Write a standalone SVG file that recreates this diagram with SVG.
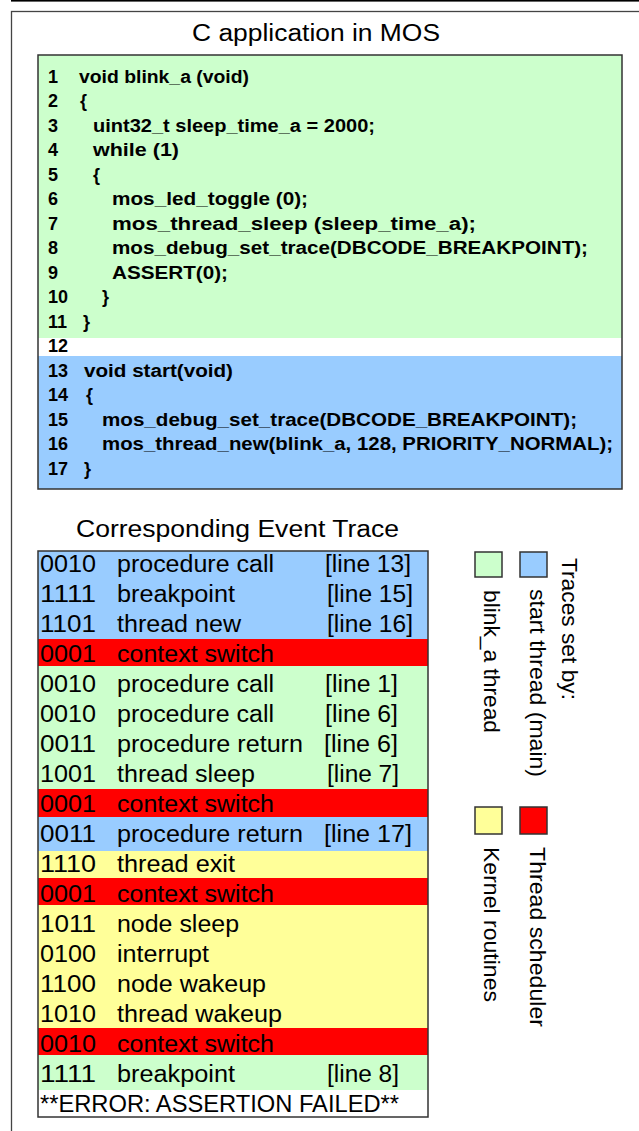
<svg xmlns="http://www.w3.org/2000/svg" width="639" height="1131" viewBox="0 0 639 1131">
<style>
.code{font-family:"Liberation Sans",Arial,sans-serif;font-size:18px;font-weight:bold;fill:#000}
.tr{font-family:"Liberation Sans",Arial,sans-serif;font-size:23px;fill:#000}
.ttl{font-family:"Liberation Sans",Arial,sans-serif;font-size:23.5px;fill:#000}
.lg{font-family:"Liberation Sans",Arial,sans-serif;font-size:22px;fill:#000}
.box{stroke:#333;stroke-width:1.5;fill:none}
.sq{stroke:#333;stroke-width:1.5}
.g{fill:#ccffcc}.b{fill:#99ccff}.r{fill:#ff0000}.y{fill:#ffff99}.w{fill:#ffffff}
</style>
<rect x="0" y="0" width="639" height="1131" fill="#ffffff"/>
<rect x="11" y="0" width="628" height="1.6" fill="#000"/>
<rect id="frame" x="11.5" y="11.5" width="700" height="1200" fill="none" stroke="#444" stroke-width="1.3"/>

<g id="title-app">
<text class="ttl" x="192" y="41" textLength="248" lengthAdjust="spacingAndGlyphs">C application in MOS</text>
</g>

<g id="code-box">
<rect class="g" x="38" y="55" width="584" height="283"/>
<rect class="w" x="38" y="338" width="584" height="18"/>
<rect class="b" x="38" y="356" width="584" height="133"/>
<rect class="box" x="38" y="55" width="584" height="434"/>
<g class="code">
<text x="48" y="82.5">1</text><text x="79" y="82.5" textLength="170" lengthAdjust="spacingAndGlyphs">void blink_a (void)</text>
<text x="48" y="107">2</text><text x="80" y="107">{</text>
<text x="48" y="131.5">3</text><text x="93" y="131.5" textLength="282" lengthAdjust="spacingAndGlyphs">uint32_t sleep_time_a = 2000;</text>
<text x="48" y="156">4</text><text x="93" y="156" textLength="86" lengthAdjust="spacingAndGlyphs">while (1)</text>
<text x="48" y="180.5">5</text><text x="93" y="180.5">{</text>
<text x="48" y="205">6</text><text x="112" y="205" textLength="196" lengthAdjust="spacingAndGlyphs">mos_led_toggle (0);</text>
<text x="48" y="229.5">7</text><text x="112" y="229.5" textLength="364" lengthAdjust="spacingAndGlyphs">mos_thread_sleep (sleep_time_a);</text>
<text x="48" y="254">8</text><text x="112" y="254" textLength="476" lengthAdjust="spacingAndGlyphs">mos_debug_set_trace(DBCODE_BREAKPOINT);</text>
<text x="48" y="278.5">9</text><text x="112" y="278.5" textLength="116" lengthAdjust="spacingAndGlyphs">ASSERT(0);</text>
<text x="48" y="303">10</text><text x="102" y="303">}</text>
<text x="48" y="327.5">11</text><text x="83" y="327.5">}</text>
<text x="48" y="352">12</text>
<text x="48" y="376.5">13</text><text x="84" y="376.5" textLength="149" lengthAdjust="spacingAndGlyphs">void start(void)</text>
<text x="48" y="401">14</text><text x="86" y="401">{</text>
<text x="48" y="425.5">15</text><text x="102" y="425.5" textLength="475" lengthAdjust="spacingAndGlyphs">mos_debug_set_trace(DBCODE_BREAKPOINT);</text>
<text x="48" y="450">16</text><text x="102" y="450" textLength="511" lengthAdjust="spacingAndGlyphs">mos_thread_new(blink_a, 128, PRIORITY_NORMAL);</text>
<text x="48" y="474.5">17</text><text x="84" y="474.5">}</text>
</g>
</g>

<g id="title-trace">
<text class="ttl" x="76" y="537" textLength="323" lengthAdjust="spacingAndGlyphs">Corresponding Event Trace</text>
</g>

<g id="trace-table">
<rect class="b" x="38" y="551" width="390" height="88"/>
<rect class="r" x="38" y="639" width="390" height="27"/>
<rect class="g" x="38" y="666" width="390" height="123"/>
<rect class="r" x="38" y="789" width="390" height="28"/>
<rect class="b" x="38" y="817" width="390" height="34"/>
<rect class="y" x="38" y="851" width="390" height="27"/>
<rect class="r" x="38" y="878" width="390" height="27"/>
<rect class="y" x="38" y="905" width="390" height="123"/>
<rect class="r" x="38" y="1028" width="390" height="27"/>
<rect class="g" x="38" y="1055" width="390" height="35"/>
<rect class="w" x="38" y="1090" width="390" height="27"/>
<rect class="box" x="38" y="551" width="390" height="566"/>
<g class="tr">
<text x="40" y="571.5" textLength="56" lengthAdjust="spacingAndGlyphs">0010</text><text x="117" y="571.5" textLength="157" lengthAdjust="spacingAndGlyphs">procedure call</text><text x="325" y="571.5" textLength="86" lengthAdjust="spacingAndGlyphs">[line 13]</text>
<text x="40" y="601.5" textLength="56" lengthAdjust="spacingAndGlyphs">1111</text><text x="117" y="601.5" textLength="118" lengthAdjust="spacingAndGlyphs">breakpoint</text><text x="327" y="601.5" textLength="86" lengthAdjust="spacingAndGlyphs">[line 15]</text>
<text x="40" y="631.5" textLength="56" lengthAdjust="spacingAndGlyphs">1101</text><text x="117" y="631.5" textLength="124" lengthAdjust="spacingAndGlyphs">thread new</text><text x="327" y="631.5" textLength="86" lengthAdjust="spacingAndGlyphs">[line 16]</text>
<text x="40" y="661.5" textLength="56" lengthAdjust="spacingAndGlyphs">0001</text><text x="117" y="661.5" textLength="157" lengthAdjust="spacingAndGlyphs">context switch</text>
<text x="40" y="691.5" textLength="56" lengthAdjust="spacingAndGlyphs">0010</text><text x="117" y="691.5" textLength="157" lengthAdjust="spacingAndGlyphs">procedure call</text><text x="325" y="691.5" textLength="73" lengthAdjust="spacingAndGlyphs">[line 1]</text>
<text x="40" y="721.5" textLength="56" lengthAdjust="spacingAndGlyphs">0010</text><text x="117" y="721.5" textLength="157" lengthAdjust="spacingAndGlyphs">procedure call</text><text x="325" y="721.5" textLength="73" lengthAdjust="spacingAndGlyphs">[line 6]</text>
<text x="40" y="751.5" textLength="56" lengthAdjust="spacingAndGlyphs">0011</text><text x="117" y="751.5" textLength="186" lengthAdjust="spacingAndGlyphs">procedure return</text><text x="324" y="751.5" textLength="74" lengthAdjust="spacingAndGlyphs">[line 6]</text>
<text x="40" y="781.5" textLength="56" lengthAdjust="spacingAndGlyphs">1001</text><text x="117" y="781.5" textLength="138" lengthAdjust="spacingAndGlyphs">thread sleep</text><text x="327" y="781.5" textLength="72" lengthAdjust="spacingAndGlyphs">[line 7]</text>
<text x="40" y="811.5" textLength="56" lengthAdjust="spacingAndGlyphs">0001</text><text x="117" y="811.5" textLength="157" lengthAdjust="spacingAndGlyphs">context switch</text>
<text x="40" y="841.5" textLength="56" lengthAdjust="spacingAndGlyphs">0011</text><text x="117" y="841.5" textLength="186" lengthAdjust="spacingAndGlyphs">procedure return</text><text x="324" y="841.5" textLength="88" lengthAdjust="spacingAndGlyphs">[line 17]</text>
<text x="40" y="871.5" textLength="56" lengthAdjust="spacingAndGlyphs">1110</text><text x="117" y="871.5" textLength="118" lengthAdjust="spacingAndGlyphs">thread exit</text>
<text x="40" y="901.5" textLength="56" lengthAdjust="spacingAndGlyphs">0001</text><text x="117" y="901.5" textLength="157" lengthAdjust="spacingAndGlyphs">context switch</text>
<text x="40" y="931.5" textLength="56" lengthAdjust="spacingAndGlyphs">1011</text><text x="117" y="931.5" textLength="122" lengthAdjust="spacingAndGlyphs">node sleep</text>
<text x="40" y="961.5" textLength="56" lengthAdjust="spacingAndGlyphs">0100</text><text x="117" y="961.5" textLength="92" lengthAdjust="spacingAndGlyphs">interrupt</text>
<text x="40" y="991.5" textLength="56" lengthAdjust="spacingAndGlyphs">1100</text><text x="117" y="991.5" textLength="149" lengthAdjust="spacingAndGlyphs">node wakeup</text>
<text x="40" y="1021.5" textLength="56" lengthAdjust="spacingAndGlyphs">1010</text><text x="117" y="1021.5" textLength="165" lengthAdjust="spacingAndGlyphs">thread wakeup</text>
<text x="40" y="1051.5" textLength="56" lengthAdjust="spacingAndGlyphs">0010</text><text x="117" y="1051.5" textLength="157" lengthAdjust="spacingAndGlyphs">context switch</text>
<text x="40" y="1081.5" textLength="56" lengthAdjust="spacingAndGlyphs">1111</text><text x="117" y="1081.5" textLength="118" lengthAdjust="spacingAndGlyphs">breakpoint</text><text x="327" y="1081.5" textLength="72" lengthAdjust="spacingAndGlyphs">[line 8]</text>
<text x="40" y="1111.5" textLength="359" lengthAdjust="spacingAndGlyphs">**ERROR: ASSERTION FAILED**</text>
</g>
</g>

<g id="legend">
<text class="lg" transform="translate(562,558) rotate(90)" textLength="142" lengthAdjust="spacingAndGlyphs">Traces set by:</text>
<g id="legend-start">
<rect class="sq b" x="520" y="552" width="27" height="25"/>
<text class="lg" transform="translate(530,589) rotate(90)" textLength="188" lengthAdjust="spacingAndGlyphs">start thread (main)</text>
</g>
<g id="legend-blink">
<rect class="sq g" x="475" y="552" width="27" height="25"/>
<text class="lg" transform="translate(484,590) rotate(90)" textLength="143" lengthAdjust="spacingAndGlyphs">blink_a thread</text>
</g>
<g id="legend-scheduler">
<rect class="sq r" x="520" y="807" width="27" height="27"/>
<text class="lg" transform="translate(530,847) rotate(90)" textLength="180" lengthAdjust="spacingAndGlyphs">Thread scheduler</text>
</g>
<g id="legend-kernel">
<rect class="sq y" x="475" y="807" width="27" height="27"/>
<text class="lg" transform="translate(484,847) rotate(90)" textLength="155" lengthAdjust="spacingAndGlyphs">Kernel routines</text>
</g>
</g>
</svg>
